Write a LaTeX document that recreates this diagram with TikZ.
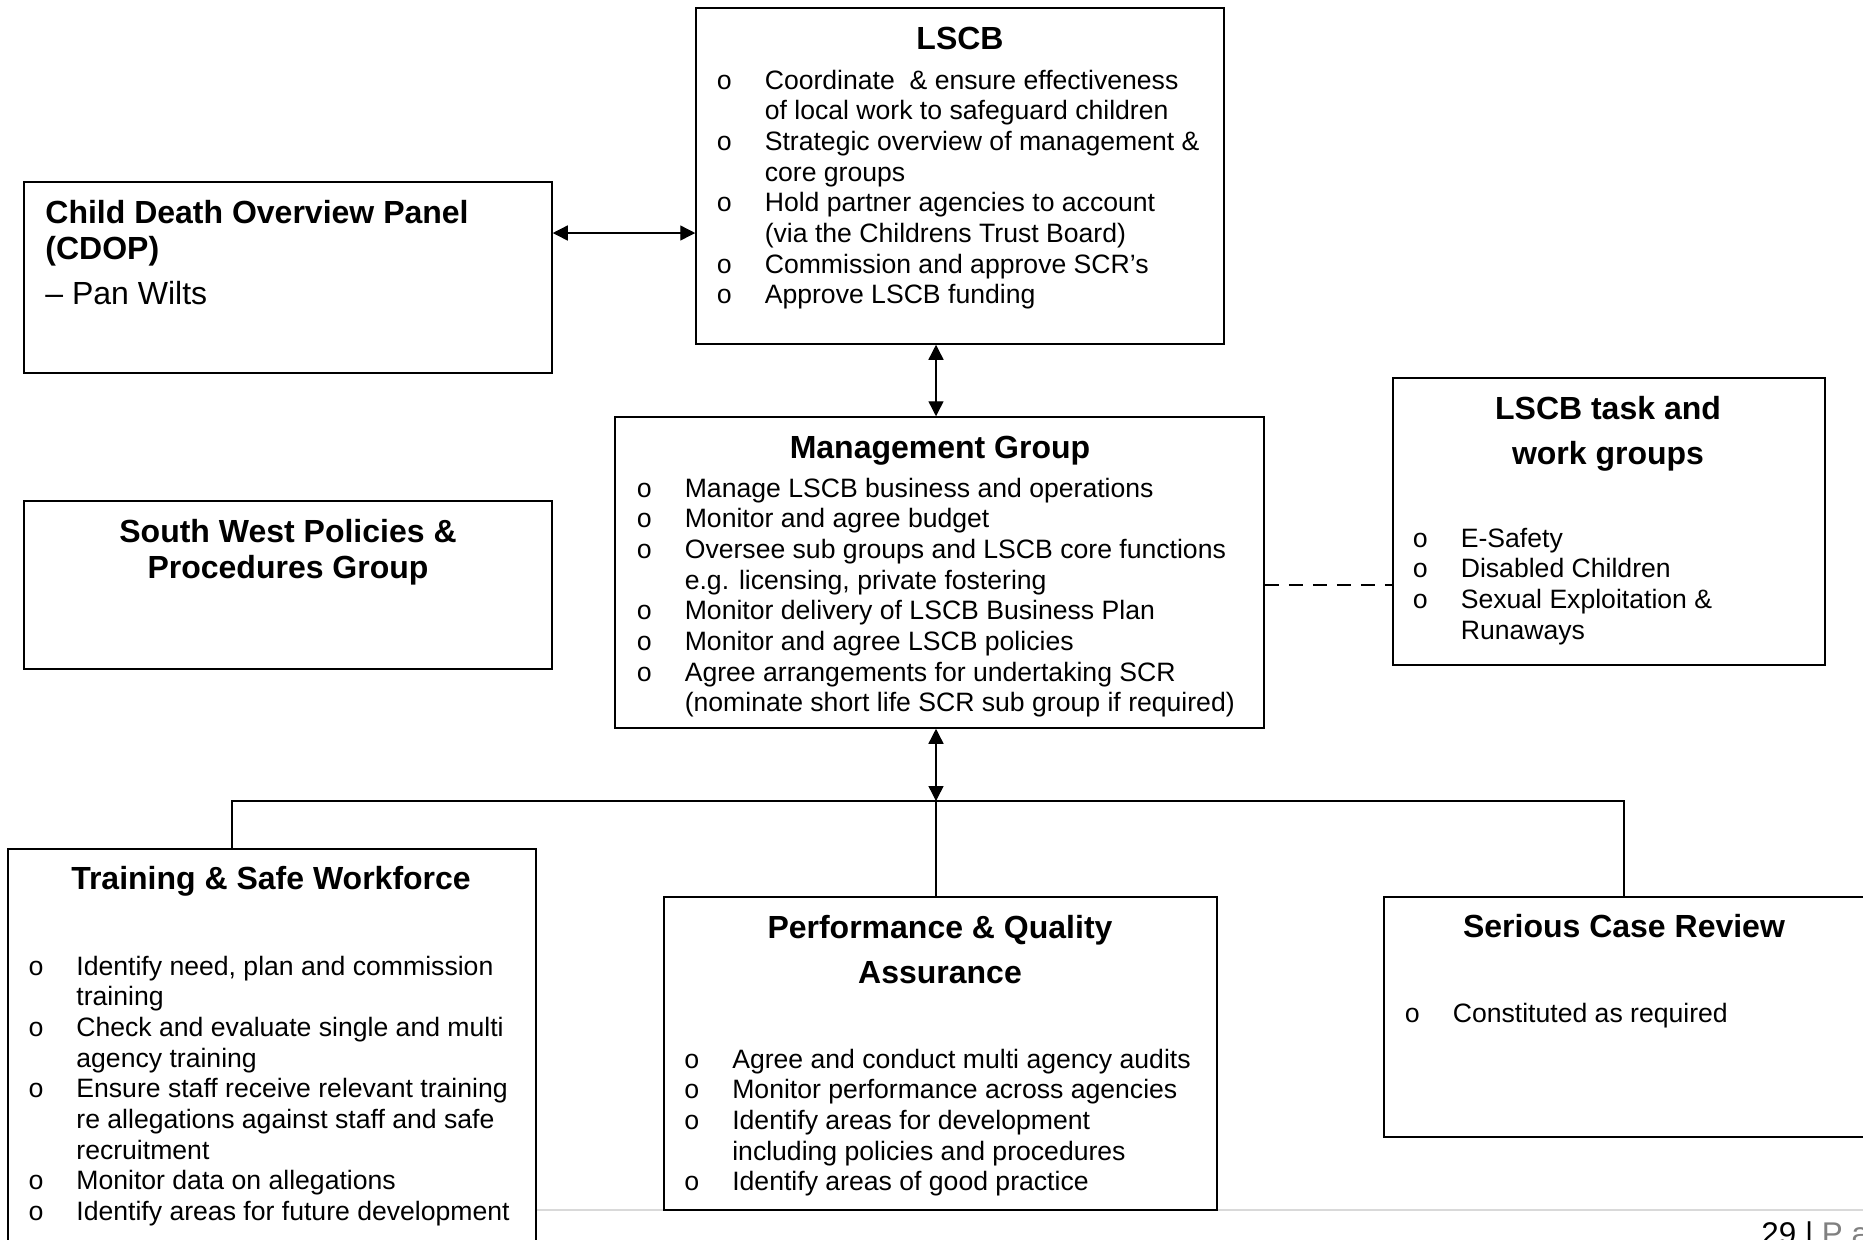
\documentclass[tikz,border=0pt]{standalone}
\usepackage{fontspec}
\setmainfont{Liberation Sans}
\newfontfamily\bulfont{Liberation Mono}
\usetikzlibrary{arrows.meta,fit}

\newcommand\bodyf{\fontsize{13.3pt}{15.35pt}\selectfont}
\newcommand\bl{\makebox[0pt][c]{\bulfont o}\hspace{20.2pt}}
\newcommand\nb{\hspace{20.2pt}}

\begin{document}
\begin{tikzpicture}[x=0.5pt,y=-0.5pt,
  box/.style={draw=black, line width=0.75pt, fill=white, inner sep=0pt},
  conn/.style={draw=black, line width=0.7pt},
  biarrow/.style={conn, {Triangle[length=7.5pt,width=7.5pt]}-{Triangle[length=7.5pt,width=7.5pt]}},
  ttl/.style={font=\fontsize{16pt}{18pt}\bfseries\selectfont, anchor=base, inner sep=0pt},
  body/.style={font=\bodyf, anchor=base west, inner sep=0pt},
]
\useasboundingbox (0,0) rectangle (1863,1239);
\clip (0,0) rectangle (1863,1239);
\fill[white] (0,0) rectangle (1863,1239);

% footer rule (behind the boxes)
\draw[line width=1pt, color=black!15] (20,1210) -- (1863,1210);

% boxes
\node[box, fit={(696,8)(1224,344)}] (lscb) {};
\node[box, fit={(24,182)(552,373)}] (cdop) {};
\node[box, fit={(24,501)(552,669)}] (swp) {};
\node[box, fit={(615,417)(1264,728)}] (mg) {};
\node[box, fit={(1393,378)(1825,665)}] (task) {};
\node[box, fit={(8,849)(536,1270)}] (train) {};
\node[box, fit={(664,897)(1217,1210)}] (pqa) {};
\node[box, fit={(1384,897)(1872,1137)}] (scr) {};

% helper coordinates
\coordinate (ay) at (0,233);
\coordinate (vx) at (936,0);
\coordinate (bus) at (0,801);
\coordinate (tx) at (232,0);
\coordinate (sx) at (1624,0);
\coordinate (dy) at (0,585);

% connectors
\draw[biarrow] (cdop.east |- ay) -- (lscb.west |- ay);
\draw[biarrow] (lscb.south -| vx) -- (mg.north -| vx);
\draw[biarrow] (mg.south -| vx) -- (vx |- bus);
\draw[conn] (vx |- bus) -- (pqa.north -| vx);
\draw[conn] (train.north -| tx) -- (tx |- bus) -- (sx |- bus) -- (scr.north -| sx);
\draw[conn, dash pattern=on 7pt off 5pt] (mg.east |- dy) -- (task.west |- dy);

% LSCB
\node[ttl] (lscbT) at (960,49.5) {LSCB};
\node[body] (lscbB) at (724,89) {\begin{tabular}[t]{@{}l@{}}
\bl Coordinate\ \ \& ensure effectiveness\\
\nb of local work to safeguard children\\
\bl Strategic overview of management \&\\
\nb core groups\\
\bl Hold partner agencies to account\\
\nb (via the Childrens Trust Board)\\
\bl Commission and approve SCR’s\\
\bl Approve LSCB funding
\end{tabular}};

% CDOP
\node[anchor=base west, inner sep=0pt, font=\fontsize{16pt}{18.25pt}\selectfont] (cdopT) at (45,223) {\begin{tabular}[t]{@{}l@{}}
\textbf{Child Death Overview Panel}\\
\textbf{(CDOP)}\\[4pt]
– Pan Wilts
\end{tabular}};

% South West
\node[ttl] (swpT) at (288,542.5) {\begin{tabular}[t]{@{}c@{}}South West Policies \&\\Procedures Group\end{tabular}};

% Management Group
\node[ttl] (mgT) at (940,458.5) {Management Group};
\node[body] (mgB) at (644,497) {\begin{tabular}[t]{@{}l@{}}
\bl Manage LSCB business and operations\\
\bl Monitor and agree budget\\
\bl Oversee sub groups and LSCB core functions\\
\nb e.g. licensing, private fostering\\
\bl Monitor delivery of LSCB Business Plan\\
\bl Monitor and agree LSCB policies\\
\bl Agree arrangements for undertaking SCR\\
\nb (nominate short life SCR sub group if required)
\end{tabular}};

% Task groups
\node[ttl, font=\fontsize{16pt}{22.5pt}\bfseries\selectfont] (taskT) at (1608,419) {\begin{tabular}[t]{@{}c@{}}LSCB task and\\work groups\end{tabular}};
\node[body] (taskB) at (1420,547) {\begin{tabular}[t]{@{}l@{}}
\bl E-Safety\\
\bl Disabled Children\\
\bl Sexual Exploitation \&\\
\nb Runaways
\end{tabular}};

% Training
\node[ttl] (trainT) at (271,889.5) {Training \& Safe Workforce};
\node[body] (trainB) at (35.6,975) {\begin{tabular}[t]{@{}l@{}}
\bl Identify need, plan and commission\\
\nb training\\
\bl Check and evaluate single and multi\\
\nb agency training\\
\bl Ensure staff receive relevant training\\
\nb re allegations against staff and safe\\
\nb recruitment\\
\bl Monitor data on allegations\\
\bl Identify areas for future development
\end{tabular}};

% Performance & QA
\node[ttl, font=\fontsize{16pt}{22.5pt}\bfseries\selectfont] (pqaT) at (940,938) {\begin{tabular}[t]{@{}c@{}}Performance \& Quality\\Assurance\end{tabular}};
\node[body] (pqaB) at (691.5,1068) {\begin{tabular}[t]{@{}l@{}}
\bl Agree and conduct multi agency audits\\
\bl Monitor performance across agencies\\
\bl Identify areas for development\\
\nb including policies and procedures\\
\bl Identify areas of good practice
\end{tabular}};

% Serious Case Review
\node[ttl] (scrT) at (1624,937) {Serious Case Review};
\node[body] (scrB) at (1412,1022) {\begin{tabular}[t]{@{}l@{}}
\bl Constituted as required
\end{tabular}};

% footer
\node[anchor=base west, inner sep=0pt, font=\fontsize{15.7pt}{18pt}\selectfont] (foot) at (1761,1244) {29 | \textcolor{black!50}{P a}};
\end{tikzpicture}
\end{document}
